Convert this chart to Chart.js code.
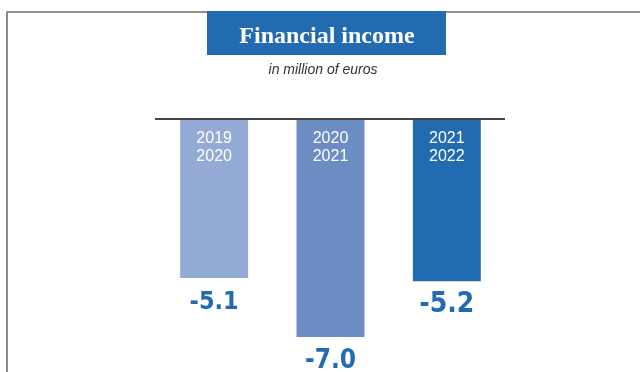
<!DOCTYPE html>
<html>
<head>
<meta charset="utf-8">
<script src="https://cdn.jsdelivr.net/npm/chart.js@4/dist/chart.umd.min.js"></script>
<style>
  html, body { margin: 0; padding: 0; background: #fff; }
  #wrap { width: 640px; height: 372px; position: relative; }
</style>
</head>
<body>
<div id="wrap"><canvas id="c" width="640" height="372"></canvas></div>
<script>
// Financial income per financial year, in million of euros
const periods = [["2019", "2020"], ["2020", "2021"], ["2021", "2022"]];
const incomeValues = [-5.1, -7.0, -5.2];
const valueLabels = ["-5.1", "-7.0", "-5.2"];

const titleText = "Financial income";
const subtitleText = "in million of euros";

// drawing styles
const barColors = ["#93aad4", "#6b8dc4", "#236bb0"];
const valueFontPx = [25, 26, 28];   // latest year printed largest
const accent = "#236bb0";
const condensed = "'DejaVu Sans Condensed', 'Liberation Sans', sans-serif";

// Frame, heading box, baseline and the text attached to each bar
const decorations = {
  id: "decorations",
  beforeDraw(chart) {
    const ctx = chart.ctx;
    ctx.save();
    ctx.fillStyle = "#fff";
    ctx.fillRect(0, 0, chart.width, chart.height);
    // open frame: top and left edges
    ctx.strokeStyle = "#6e6e6e";
    ctx.lineWidth = 1.6;
    ctx.beginPath();
    ctx.moveTo(7, chart.height);
    ctx.lineTo(7, 12);
    ctx.lineTo(chart.width, 12);
    ctx.stroke();
    // heading box
    ctx.fillStyle = accent;
    ctx.fillRect(207, 11, 239, 44);
    ctx.fillStyle = "#fff";
    ctx.font = "bold 24px 'Liberation Serif', 'DejaVu Serif', serif";
    ctx.textAlign = "center";
    ctx.textBaseline = "alphabetic";
    ctx.fillText(titleText, 327, 43);
    // unit line
    ctx.fillStyle = "#333";
    ctx.font = "italic 14px 'Liberation Sans', Arial, sans-serif";
    ctx.fillText(subtitleText, 323, 74);
    ctx.restore();
  },
  afterDatasetsDraw(chart) {
    const ctx = chart.ctx;
    const y = chart.scales.y;
    const zeroY = y.getPixelForValue(0);
    ctx.save();
    // zero line across the bars
    ctx.strokeStyle = "#444";
    ctx.lineWidth = 2;
    ctx.beginPath();
    ctx.moveTo(155, zeroY - 1);
    ctx.lineTo(505, zeroY - 1);
    ctx.stroke();
    const meta = chart.getDatasetMeta(0);
    ctx.textAlign = "center";
    ctx.textBaseline = "alphabetic";
    meta.data.forEach((bar, i) => {
      // period inside the bar head
      ctx.fillStyle = "#fff";
      ctx.font = "16px 'Liberation Sans', Arial, sans-serif";
      ctx.fillText(periods[i][0], bar.x, zeroY + 23);
      ctx.fillText(periods[i][1], bar.x, zeroY + 41);
      // value under the bar end
      ctx.fillStyle = accent;
      ctx.font = "bold " + valueFontPx[i] + "px " + condensed;
      ctx.fillText(valueLabels[i], bar.x, bar.y + 31);
    });
    ctx.restore();
  }
};

new Chart(document.getElementById("c"), {
  type: "bar",
  data: {
    labels: periods.map(p => p.join("/")),
    datasets: [{
      data: incomeValues,
      backgroundColor: barColors,
      borderWidth: 0,
      barPercentage: 0.584,
      categoryPercentage: 1
    }]
  },
  options: {
    responsive: false,
    animation: false,
    layout: { padding: { left: 156, right: 135, top: 120, bottom: 4 } },
    scales: {
      x: { display: false },
      y: { display: false, min: -8, max: 0 }
    },
    plugins: {
      legend: { display: false },
      tooltip: { enabled: false },
      title: { display: false }
    }
  },
  plugins: [decorations]
});
</script>
</body>
</html>
